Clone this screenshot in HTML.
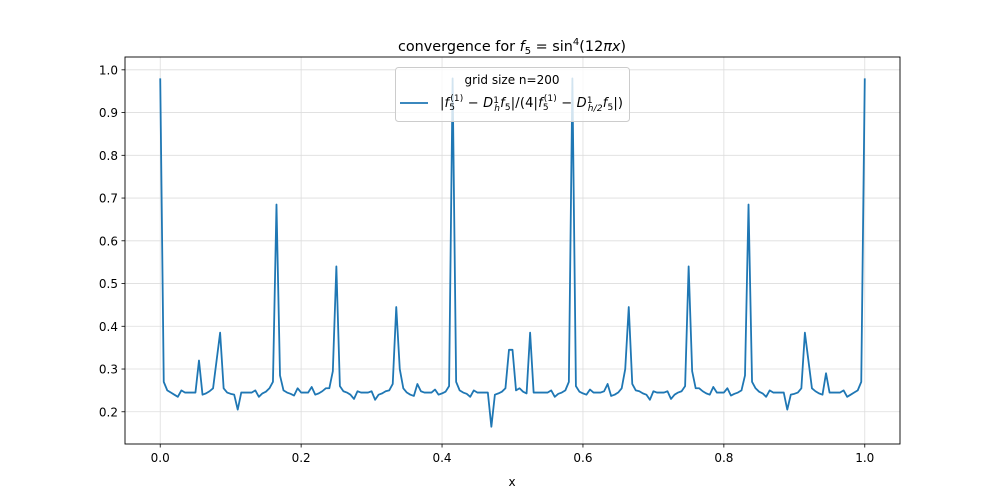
<!DOCTYPE html>
<html><head><meta charset="utf-8"><style>
body{margin:0;background:#fff;}
svg{display:block;font-family:"DejaVu Sans","Liberation Sans",sans-serif;}
</style></head><body>
<svg id="chart" width="1000" height="500" viewBox="0 0 1000 500">
<g id="grid"></g>
<g id="axes"></g>
<path id="series" fill="none" stroke="#1f77b4" stroke-width="1.8" stroke-linejoin="round"></path>
<rect x="125" y="57" width="775" height="387" fill="none" stroke="#000" stroke-width="0.9"/>
<text x="512" y="51" text-anchor="middle" font-size="14.4">convergence for <tspan font-style="italic">f</tspan><tspan font-size="10" dy="3">5</tspan><tspan dy="-3"> = sin</tspan><tspan font-size="10" dy="-6">4</tspan><tspan dy="6">(12</tspan><tspan font-style="italic">πx</tspan>)</text>
<text x="512" y="486" text-anchor="middle" font-size="12">x</text>
<g>
<rect x="395.5" y="67.5" width="234" height="54" rx="3" fill="#fff" fill-opacity="0.8" stroke="#ccc"/>
<text x="512" y="84" text-anchor="middle" font-size="12">grid size n=200</text>
<line x1="400" y1="103" x2="428" y2="103" stroke="#1f77b4" stroke-width="1.8"/>
<text x="440" y="107" font-size="13" textLength="183" lengthAdjust="spacing">|<tspan font-style="italic">f</tspan><tspan font-size="9" dy="3">5</tspan><tspan font-size="9" dx="-5" dy="-9">(1)</tspan><tspan dy="6"> − </tspan><tspan font-style="italic">D</tspan><tspan font-size="9" dy="-4">1</tspan><tspan font-size="9" font-style="italic" dx="-5" dy="8">h</tspan><tspan font-style="italic" dy="-4">f</tspan><tspan font-size="9" dy="3">5</tspan><tspan dy="-3">|/(4|</tspan><tspan font-style="italic">f</tspan><tspan font-size="9" dy="3">5</tspan><tspan font-size="9" dx="-5" dy="-9">(1)</tspan><tspan dy="6"> − </tspan><tspan font-style="italic">D</tspan><tspan font-size="9" dy="-4">1</tspan><tspan font-size="9" font-style="italic" dx="-5" dy="8">h/2</tspan><tspan font-style="italic" dy="-4">f</tspan><tspan font-size="9" dy="3">5</tspan><tspan dy="-3">|)</tspan></text>
</g>
</svg>
<script>
const xTicks = [0.0, 0.2, 0.4, 0.6, 0.8, 1.0];
const xTickLabels = ["0.0","0.2","0.4","0.6","0.8","1.0"];
const yTicks = [0.2,0.3,0.4,0.5,0.6,0.7,0.8,0.9,1.0];
const yTickLabels = ["0.2","0.3","0.4","0.5","0.6","0.7","0.8","0.9","1.0"];
const gridN = 200;
const values = [
0.98,0.27,0.25,0.245,0.24,0.235,0.25,0.245,0.245,0.245,
0.245,0.32,0.24,0.243,0.248,0.255,0.32,0.385,0.255,0.245,
0.242,0.24,0.205,0.245,0.245,0.245,0.245,0.25,0.235,0.243,
0.247,0.255,0.27,0.685,0.285,0.25,0.245,0.242,0.238,0.255,
0.245,0.245,0.245,0.258,0.24,0.243,0.248,0.255,0.255,0.295,
0.54,0.26,0.248,0.245,0.24,0.23,0.248,0.245,0.245,0.245,
0.248,0.228,0.24,0.243,0.248,0.25,0.265,0.445,0.30,0.255,
0.245,0.24,0.237,0.265,0.248,0.245,0.245,0.245,0.252,0.24,
0.243,0.247,0.26,0.98,0.27,0.25,0.245,0.242,0.235,0.25,
0.245,0.245,0.245,0.245,0.165,0.24,0.243,0.247,0.255,0.345,
0.345,0.25,0.255,0.247,0.243,0.385,0.245,0.245,0.245,0.245,
0.245,0.25,0.235,0.242,0.245,0.25,0.27,0.98,0.26,0.247,
0.243,0.24,0.252,0.245,0.245,0.245,0.248,0.265,0.237,0.24,
0.245,0.255,0.30,0.445,0.265,0.25,0.248,0.243,0.24,0.228,
0.248,0.245,0.245,0.245,0.248,0.23,0.24,0.245,0.248,0.26,
0.54,0.295,0.255,0.255,0.248,0.243,0.24,0.258,0.245,0.245,
0.245,0.255,0.238,0.242,0.245,0.25,0.285,0.685,0.27,0.255,
0.247,0.243,0.235,0.25,0.245,0.245,0.245,0.245,0.205,0.24,
0.242,0.245,0.255,0.385,0.32,0.255,0.248,0.243,0.24,0.29,
0.245,0.245,0.245,0.245,0.25,0.235,0.24,0.245,0.25,0.27,
0.98
];
const X0=125,X1=900,Y0=444,Y1=57;
const xmin=-0.05,xmax=1.05,ymin=0.1246,ymax=1.03;
function xs(v){return X0+(v-xmin)/(xmax-xmin)*(X1-X0);}
function ys(v){return Y0-(v-ymin)/(ymax-ymin)*(Y0-Y1);}
const NS="http://www.w3.org/2000/svg";
const grid=document.getElementById('grid'), axes=document.getElementById('axes');
function mk(tag,attrs,parent){const e=document.createElementNS(NS,tag);for(const k in attrs)e.setAttribute(k,attrs[k]);parent.appendChild(e);return e;}
xTicks.forEach((t,i)=>{
  const x=xs(t);
  const g=mk('line',{x1:x,x2:x,y1:Y1,y2:Y0,stroke:'#ddd','stroke-width':0.8},grid);
  
  
  const tk=mk('line',{x1:x,x2:x,y1:Y0,y2:Y0+3.5,stroke:'#000','stroke-width':0.8},axes);
  
  
  const tx=mk('text',{x:x,y:Y0+18,'text-anchor':'middle','font-size':12},axes);
  tx.textContent=xTickLabels[i];
  
  
});
yTicks.forEach((t,i)=>{
  const y=ys(t);
  const g=mk('line',{x1:X0,x2:X1,y1:y,y2:y,stroke:'#ddd','stroke-width':0.8},grid);
  
  
  const tk=mk('line',{x1:X0-3.5,x2:X0,y1:y,y2:y,stroke:'#000','stroke-width':0.8},axes);
  
  
  const tx=mk('text',{x:X0-7,y:y+4.5,'text-anchor':'end','font-size':12},axes);
  tx.textContent=yTickLabels[i];
  
  
});
let d='';
values.forEach((v,i)=>{d+=(i?'L':'M')+xs(i/gridN).toFixed(2)+','+ys(v).toFixed(2);});
document.getElementById('series').setAttribute('d',d);
</script>
</body></html>
